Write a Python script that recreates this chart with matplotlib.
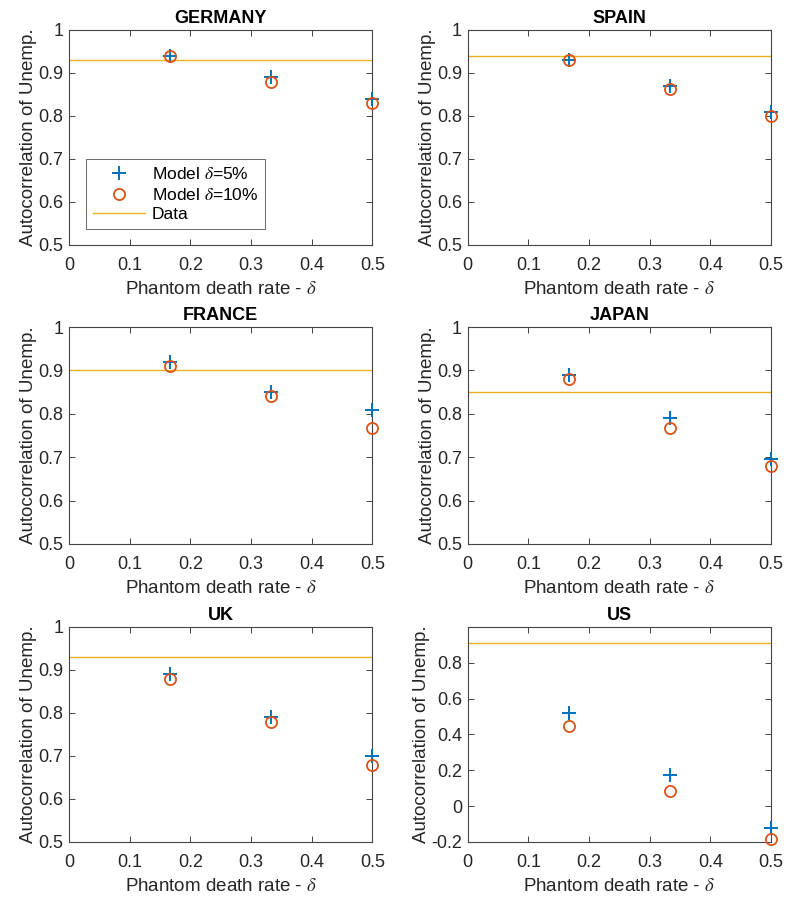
import numpy as np
import matplotlib
matplotlib.use('Agg')
import matplotlib.pyplot as plt
from matplotlib.ticker import FuncFormatter

plt.rcParams['font.family'] = ['Liberation Sans', 'DejaVu Sans']
plt.rcParams['mathtext.fontset'] = 'stix'

# Data
delta = [1/6, 1/3, 1/2]
countries = ['GERMANY', 'SPAIN', 'FRANCE', 'JAPAN', 'UK', 'US']
model5 = {
    'GERMANY': [0.94, 0.89, 0.84],
    'SPAIN':   [0.93, 0.87, 0.81],
    'FRANCE':  [0.92, 0.85, 0.808],
    'JAPAN':   [0.89, 0.79, 0.695],
    'UK':      [0.89, 0.79, 0.70],
    'US':      [0.52, 0.175, -0.12],
}
model10 = {
    'GERMANY': [0.94, 0.88, 0.83],
    'SPAIN':   [0.93, 0.862, 0.80],
    'FRANCE':  [0.91, 0.84, 0.768],
    'JAPAN':   [0.88, 0.768, 0.68],
    'UK':      [0.88, 0.78, 0.68],
    'US':      [0.445, 0.085, -0.185],
}
data_ac = {'GERMANY': 0.93, 'SPAIN': 0.94, 'FRANCE': 0.90,
           'JAPAN': 0.85, 'UK': 0.93, 'US': 0.91}

blue = '#0072BD'
orange = '#D95319'
yellow = '#EDB120'
txt = '#262626'

fig = plt.figure(figsize=(7.86, 9.22), dpi=100)
lefts = [0.0878, 0.595]
rows = [(0.7343, 0.2332), (0.4100, 0.2353), (0.0868, 0.2332)]

fmt = FuncFormatter(lambda v, p: ('%g' % round(v, 2)))

for i, c in enumerate(countries):
    b, h = rows[i // 2]
    ax = fig.add_axes([lefts[i % 2], b, 0.386, h])
    ax.axhline(data_ac[c], color=yellow, lw=1, label='Data')
    l1, = ax.plot(delta, model5[c], '+', color=blue, ms=10, mew=1.4,
                  clip_on=False, label='Model $\\delta$=5%', zorder=3)
    l2, = ax.plot(delta, model10[c], 'o', color=orange, mfc='none', ms=8,
                  mew=1.3, clip_on=False, label='Model $\\delta$=10%', zorder=3)
    ax.set_xlim(0, 0.5)
    ax.set_xticks(np.arange(0, 0.51, 0.1))
    if c == 'US':
        ax.set_ylim(-0.2, 1)
        ax.set_yticks(np.arange(-0.2, 0.81, 0.2))
    else:
        ax.set_ylim(0.5, 1)
        ax.set_yticks(np.arange(0.5, 1.01, 0.1))
    ax.xaxis.set_major_formatter(fmt)
    ax.yaxis.set_major_formatter(fmt)
    ax.tick_params(direction='in', top=True, right=True, labelsize=13,
                   colors=txt, length=4, width=0.6, pad=4)
    ax.tick_params(axis='x', pad=8.5)
    for s in ax.spines.values():
        s.set_color('#444444')
        s.set_linewidth(0.8)
    ax.set_title(c, fontsize=13, fontweight='bold', color='black', pad=5)
    ax.set_xlabel('Phantom death rate - $\\delta$', fontsize=13.5, color=txt,
                  labelpad=5.5)
    ax.set_ylabel('Autocorrelation of Unemp.', fontsize=13.5, color=txt,
                  labelpad=1)
    if c == 'GERMANY':
        hl = ax.get_legend_handles_labels()[0]
        leg = ax.legend([l1, l2, hl[0]],
                        ['Model $\\delta$=5%', 'Model $\\delta$=10%', 'Data'],
                        loc='lower left', bbox_to_anchor=(0.056, 0.074),
                        fontsize=12.5, frameon=True, fancybox=False,
                        edgecolor='#262626', borderpad=0.4, labelspacing=0.25,
                        handlelength=3.0, handletextpad=0.4, borderaxespad=0)
        leg.get_frame().set_linewidth(0.6)

fig.savefig('out.png', dpi=100)
